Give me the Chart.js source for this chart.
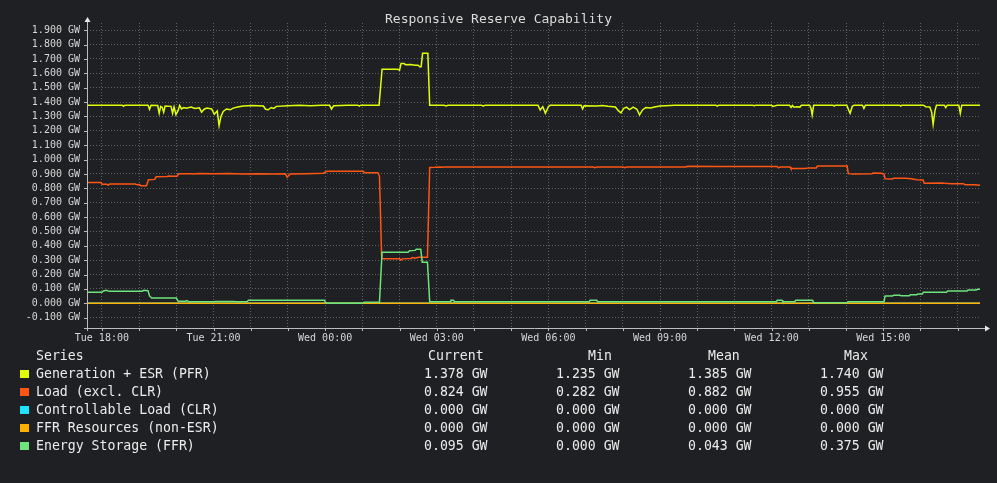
<!DOCTYPE html>
<html>
<head>
<meta charset="utf-8">
<title>Responsive Reserve Capability</title>
<script src="https://cdn.jsdelivr.net/npm/chart.js@4.4.1/dist/chart.umd.min.js"></script>
<style>
  html, body { margin: 0; padding: 0; background: #1f2023; }
  #wrap { position: relative; width: 997px; height: 483px; font-family: "DejaVu Sans Mono", monospace; color: #ececec; }
  #chart { position: absolute; left: 0; top: 0; }
  #title { position: absolute; top: 11px; left: 0; width: 997px; text-align: center; font-size: 13px; line-height: 16px; color: #dcdcdc; }
  .txt { position: absolute; font-size: 13.2px; line-height: 18px; white-space: pre; }
  .sw { position: absolute; width: 9px; height: 8px; }
</style>
</head>
<body>
<div id="wrap">
  <canvas id="chart" width="997" height="483"></canvas>
  <div id="title">Responsive Reserve Capability</div>
  <div id="legend"></div>
</div>
<script>
// hours counted from Tue 00:00 (24 = Wed 00:00)
const tickHours = [18, 19, 20, 21, 22, 23, 24, 25, 26, 27, 28, 29, 30, 31, 32, 33, 34, 35, 36, 37, 38, 39, 40, 41];
const yTicks = [-0.1, 0, 0.1, 0.2, 0.3, 0.4, 0.5, 0.6, 0.7, 0.8, 0.9, 1.0, 1.1, 1.2, 1.3, 1.4, 1.5, 1.6, 1.7, 1.8, 1.9];

const seriesNames = ["Generation + ESR (PFR)", "Load (excl. CLR)", "Controllable Load (CLR)", "FFR Resources (non-ESR)", "Energy Storage (FFR)"];
const seriesColors = ["#e2ff0a", "#ff5614", "#1fe2ff", "#ffb000", "#6ee47c"];
const currentVals = ["1.378 GW", "0.824 GW", "0.000 GW", "0.000 GW", "0.095 GW"];
const minVals = ["1.235 GW", "0.282 GW", "0.000 GW", "0.000 GW", "0.000 GW"];
const meanVals = ["1.385 GW", "0.882 GW", "0.000 GW", "0.000 GW", "0.043 GW"];
const maxVals = ["1.740 GW", "0.955 GW", "0.000 GW", "0.000 GW", "0.375 GW"];

// Generation + ESR (PFR)
const genTimes = [17.6, 18.55, 18.58, 18.62, 19.24, 19.28, 19.32, 19.50, 19.54, 19.58, 19.62, 19.66, 19.70,
  19.86, 19.90, 19.94, 19.99, 20.05, 20.09, 20.14, 20.20, 20.27, 20.40, 20.50, 20.62, 20.68, 20.75, 20.82, 20.95,
  21.02, 21.10, 21.15, 21.20, 21.26, 21.35, 21.45, 21.53, 21.65, 21.80, 22.05, 22.34, 22.40, 22.47, 22.55, 22.62, 22.69,
  23.0, 23.3, 23.6, 23.9, 24.12, 24.17, 24.23, 24.6, 24.88, 24.92, 24.96,
  25.45, 25.53, 25.95, 26.0, 26.04, 26.12, 26.16, 26.3, 26.42, 26.5, 26.54, 26.58, 26.62, 26.76, 26.81,
  27.2, 27.25, 27.3, 28.2, 28.25, 28.3, 29.72, 29.78, 29.85, 29.92, 30.0, 30.05,
  30.88, 30.92, 30.96, 31.3, 31.45, 31.6, 31.80, 31.88, 31.95, 32.02, 32.10, 32.18, 32.28, 32.38, 32.45, 32.53, 32.62, 32.75, 32.85, 33.0, 33.4,
  34.5, 34.54, 34.58, 35.5, 35.53, 35.56, 36.0, 36.03, 36.1, 36.15,
  36.48, 36.52, 36.56, 36.6, 36.68, 36.76, 36.8, 37.02, 37.06, 37.09, 37.13, 37.65, 37.68, 37.71,
  38.02, 38.07, 38.11, 38.17, 38.22, 38.44, 38.48, 38.52, 39.44, 39.47, 39.5,
  40.08, 40.14, 40.25, 40.30, 40.34, 40.39, 40.43, 40.64, 40.68, 40.72, 41.03, 41.07, 41.11, 41.6];
const genValues = [1.378, 1.378, 1.371, 1.378, 1.378, 1.350, 1.378, 1.376, 1.322, 1.370, 1.364, 1.330, 1.372,
  1.370, 1.322, 1.366, 1.312, 1.342, 1.376, 1.352, 1.362, 1.357, 1.366, 1.356, 1.360, 1.330, 1.350, 1.358, 1.352,
  1.315, 1.338, 1.236, 1.300, 1.335, 1.352, 1.346, 1.358, 1.365, 1.372, 1.376, 1.372, 1.350, 1.346, 1.362, 1.356, 1.370,
  1.374, 1.377, 1.375, 1.377, 1.377, 1.352, 1.374, 1.378, 1.378, 1.372, 1.378,
  1.378, 1.628, 1.628, 1.622, 1.668, 1.668, 1.660, 1.662, 1.656, 1.656, 1.646, 1.646, 1.740, 1.740, 1.378,
  1.378, 1.373, 1.378, 1.378, 1.373, 1.378, 1.378, 1.345, 1.368, 1.322, 1.368, 1.378,
  1.378, 1.352, 1.375, 1.372, 1.376, 1.370, 1.365, 1.340, 1.325, 1.355, 1.365, 1.348, 1.365, 1.350, 1.310, 1.345, 1.362, 1.358, 1.366, 1.372, 1.377,
  1.378, 1.372, 1.378, 1.378, 1.373, 1.378, 1.378, 1.370, 1.374, 1.378,
  1.378, 1.362, 1.376, 1.364, 1.368, 1.365, 1.378, 1.378, 1.355, 1.310, 1.378, 1.378, 1.372, 1.378,
  1.378, 1.345, 1.322, 1.372, 1.378, 1.378, 1.355, 1.378, 1.378, 1.372, 1.378,
  1.378, 1.368, 1.366, 1.330, 1.244, 1.340, 1.378, 1.378, 1.362, 1.378, 1.378, 1.322, 1.378, 1.378];

// Load (excl. CLR)
const loadTimes = [17.6, 17.97, 18.01, 18.14, 18.17, 18.21, 18.9, 18.95, 19.0, 19.05, 19.2, 19.25, 19.42, 19.46, 19.75, 19.8, 19.9,
  20.02, 20.06, 20.4, 20.45, 20.6, 21.0, 21.4, 21.8, 22.2, 22.6, 22.93, 22.98, 23.06, 23.5, 23.95, 24.05, 25.02, 25.06, 25.42, 25.46, 25.52,
  26.0, 26.03, 26.07, 26.3, 26.35, 26.42, 26.5, 26.75, 26.81, 26.95, 27.08, 27.12, 27.2, 31.2, 31.25, 31.3, 32.0, 32.05, 32.1,
  33.7, 33.74, 34.6, 36.15, 36.18, 36.23, 36.5, 36.52, 36.9, 37.0, 37.2, 37.23, 38.03, 38.06, 38.2, 38.7, 38.73, 38.95, 39.02, 39.05,
  39.25, 39.28, 39.6, 39.75, 39.9, 40.07, 40.1, 40.55, 40.85, 41.15, 41.2, 41.45, 41.6];
const loadValues = [0.840, 0.840, 0.828, 0.828, 0.821, 0.830, 0.830, 0.824, 0.826, 0.818, 0.818, 0.860, 0.862, 0.880, 0.882, 0.886, 0.884,
  0.884, 0.901, 0.902, 0.899, 0.903, 0.901, 0.903, 0.900, 0.902, 0.900, 0.901, 0.877, 0.900, 0.902, 0.905, 0.918, 0.918, 0.909, 0.909, 0.885, 0.309,
  0.309, 0.300, 0.309, 0.312, 0.318, 0.314, 0.320, 0.320, 0.945, 0.946, 0.948, 0.946, 0.948, 0.948, 0.944, 0.948, 0.948, 0.944, 0.948,
  0.948, 0.953, 0.952, 0.951, 0.942, 0.948, 0.948, 0.937, 0.937, 0.942, 0.942, 0.955, 0.955, 0.902, 0.900, 0.902, 0.906, 0.904, 0.898, 0.867,
  0.865, 0.870, 0.870, 0.866, 0.860, 0.858, 0.835, 0.836, 0.832, 0.832, 0.825, 0.824, 0.822];

// Controllable Load (CLR) and FFR Resources (non-ESR)
const clrTimes = [17.6, 41.6];
const clrValues = [0, 0];
const ffrTimes = [17.6, 41.6];
const ffrValues = [0, 0];

// Energy Storage (FFR)
const esTimes = [17.6, 18.0, 18.04, 18.12, 18.2, 19.08, 19.12, 19.24, 19.28, 19.34, 20.0, 20.05, 20.25, 20.28, 20.33, 21.0, 21.05, 21.55, 21.6,
  21.9, 21.94, 23.98, 24.03, 25.02, 25.05, 25.46, 25.53, 26.23, 26.27, 26.42, 26.45, 26.57, 26.61, 26.75, 26.81, 27.36, 27.38, 27.45, 27.47,
  31.1, 31.12, 31.3, 31.32, 36.13, 36.15, 36.28, 36.3, 36.62, 36.65, 37.1, 37.13, 38.02, 38.05, 39.02, 39.05, 39.25, 39.28, 39.45, 39.48,
  39.7, 39.73, 39.9, 39.93, 40.05, 40.08, 40.7, 40.73, 41.25, 41.28, 41.5, 41.53, 41.6];
const esValues = [0.077, 0.077, 0.086, 0.090, 0.083, 0.083, 0.090, 0.088, 0.051, 0.037, 0.037, 0.014, 0.014, 0.018, 0.011, 0.011, 0.013, 0.013, 0.011,
  0.011, 0.021, 0.021, 0.0, 0.0, 0.007, 0.007, 0.355, 0.355, 0.366, 0.368, 0.376, 0.376, 0.285, 0.285, 0.011, 0.011, 0.021, 0.021, 0.011,
  0.011, 0.021, 0.021, 0.011, 0.011, 0.021, 0.021, 0.011, 0.011, 0.021, 0.021, 0.004, 0.004, 0.011, 0.011, 0.051, 0.051, 0.056, 0.056, 0.052,
  0.052, 0.060, 0.060, 0.065, 0.065, 0.077, 0.077, 0.085, 0.085, 0.093, 0.093, 0.097, 0.097];

const pts = (ts, vs) => ts.map((t, i) => ({ x: t, y: vs[i] }));

// legend table under the graph
const legend = document.getElementById("legend");
function addText(txt, left, top) {
  const d = document.createElement("div");
  d.className = "txt";
  d.style.left = left + "px";
  d.style.top = top + "px";
  d.textContent = txt;
  legend.appendChild(d);
}
addText("Series", 36, 347);
addText("Current", 428, 347);
addText("Min", 588, 347);
addText("Mean", 708, 347);
addText("Max", 844, 347);
seriesNames.forEach((name, i) => {
  const top = 365 + i * 18;
  const sw = document.createElement("div");
  sw.className = "sw";
  sw.style.left = "20px";
  sw.style.top = (top + 5) + "px";
  sw.style.background = seriesColors[i];
  legend.appendChild(sw);
  addText(name, 36, top);
  addText(currentVals[i], 424, top);
  addText(minVals[i], 556, top);
  addText(meanVals[i], 688, top);
  addText(maxVals[i], 820, top);
});

// axis lines, arrows and tick marks, rrdtool style
const axesPlugin = {
  id: "rrdAxes",
  afterDraw(chart) {
    const { ctx, chartArea } = chart;
    const xs = chart.scales.x, ys = chart.scales.y;
    const L = chartArea.left, B = chartArea.bottom, T = chartArea.top, R = chartArea.right;
    ctx.save();
    ctx.strokeStyle = "#bdbdbd";
    ctx.fillStyle = "#e8e8e8";
    ctx.lineWidth = 1;
    ctx.beginPath();
    ctx.moveTo(L + 0.5, B + 3);
    ctx.lineTo(L + 0.5, T - 2);
    ctx.moveTo(L - 3, B + 0.5);
    ctx.lineTo(R + 5, B + 0.5);
    yTicks.forEach(v => {
      const y = Math.round(ys.getPixelForValue(v)) + 0.5;
      ctx.moveTo(L - 3, y);
      ctx.lineTo(L, y);
    });
    tickHours.forEach(h => {
      const x = Math.round(xs.getPixelForValue(h)) + 0.5;
      ctx.moveTo(x, B);
      ctx.lineTo(x, B + 3);
    });
    ctx.stroke();
    ctx.beginPath();
    ctx.moveTo(L + 0.5, T - 6);
    ctx.lineTo(L - 2.5, T - 1);
    ctx.lineTo(L + 3.5, T - 1);
    ctx.closePath();
    ctx.fill();
    ctx.beginPath();
    ctx.moveTo(R + 10, B + 0.5);
    ctx.lineTo(R + 5, B - 2.5);
    ctx.lineTo(R + 5, B + 3.5);
    ctx.closePath();
    ctx.fill();
    ctx.restore();
  }
};

const bgPlugin = {
  id: "bg",
  beforeDraw(chart) {
    const ctx = chart.ctx;
    ctx.save();
    ctx.fillStyle = "#1f2023";
    ctx.fillRect(0, 0, chart.width, chart.height);
    ctx.restore();
  }
};

const lineSet = (label, data, color, order) => ({
  label, data, borderColor: color, backgroundColor: color,
  borderWidth: 1.5, pointRadius: 0, tension: 0, fill: false, order
});

new Chart(document.getElementById("chart"), {
  type: "line",
  data: {
    datasets: [
      lineSet(seriesNames[0], pts(genTimes, genValues), seriesColors[0], 5),
      lineSet(seriesNames[1], pts(loadTimes, loadValues), seriesColors[1], 4),
      lineSet(seriesNames[2], pts(clrTimes, clrValues), seriesColors[2], 3),
      lineSet(seriesNames[3], pts(ffrTimes, ffrValues), seriesColors[3], 2),
      lineSet(seriesNames[4], pts(esTimes, esValues), seriesColors[4], 1)
    ]
  },
  options: {
    responsive: false,
    animation: false,
    devicePixelRatio: 1,
    layout: { padding: { top: 23, right: 17, bottom: 133, left: 0 } },
    plugins: { legend: { display: false }, title: { display: false }, tooltip: { enabled: false } },
    scales: {
      x: {
        type: "linear",
        min: 17.6,
        max: 41.6,
        afterBuildTicks: s => { s.ticks = tickHours.map(v => ({ value: v })); },
        afterFit: s => { s.height = 22; },
        grid: { color: "rgba(120,120,120,0.75)", drawTicks: false },
        border: { display: false, dash: [1, 2] },
        ticks: {
          autoSkip: false, maxRotation: 0, padding: 4,
          color: "#d6d6d6",
          font: { family: "DejaVu Sans Mono", size: 10 },
          callback: v => {
            if (v % 3 !== 0) return "";
            const day = v < 24 ? "Tue" : "Wed";
            const hh = String(v % 24).padStart(2, "0");
            return day + " " + hh + ":00";
          }
        }
      },
      y: {
        min: -0.172,
        max: 1.95,
        afterBuildTicks: s => { s.ticks = yTicks.map(v => ({ value: v })); },
        afterFit: s => { s.width = 87; },
        grid: { color: "rgba(120,120,120,0.75)", drawTicks: false },
        border: { display: false, dash: [1, 2] },
        ticks: {
          padding: 7,
          color: "#d6d6d6",
          font: { family: "DejaVu Sans Mono", size: 10 },
          callback: v => v.toFixed(3) + " GW"
        }
      }
    }
  },
  plugins: [bgPlugin, axesPlugin]
});
</script>
</body>
</html>
